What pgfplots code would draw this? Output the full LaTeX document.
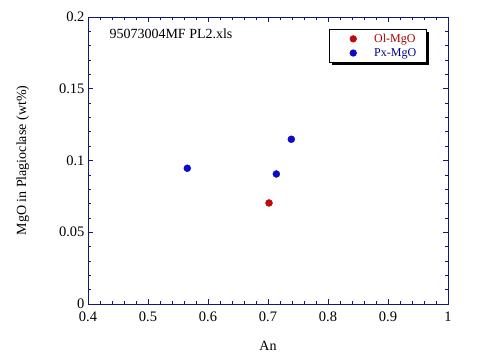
\documentclass[border=0pt]{standalone}
\usepackage{fontspec}
\setmainfont{Liberation Serif}
\usepackage{pgfplots}
\pgfplotsset{compat=1.18}
\definecolor{axnavy}{RGB}{20,20,130}
\definecolor{ptred}{RGB}{190,10,10}
\definecolor{ptblue}{RGB}{10,10,200}
\definecolor{txtred}{RGB}{160,0,0}
\definecolor{txtblue}{RGB}{0,0,150}
\begin{document}
\begin{tikzpicture}[x=1pt,y=1pt]
\useasboundingbox (-88,-55) rectangle (400,304);
\begin{axis}[
  at={(0,0)}, anchor=south west,
  scale only axis, width=360pt, height=287pt,
  xmin=0.4, xmax=1, ymin=0, ymax=0.2,
  xtick={0.4,0.5,...,1.0}, ytick={0,0.05,0.1,0.15,0.2},
  xticklabels={0.4,0.5,0.6,0.7,0.8,0.9,1},
  yticklabels={0,0.05,0.1,0.15,0.2},
  minor x tick num=4, minor y tick num=4,
  tick align=inside, major tick length=5pt, minor tick length=3pt,
  axis line style={axnavy, line width=0.8pt},
  every tick/.style={axnavy, line width=0.6pt},
  tick label style={font=\fontsize{14.5}{16}\selectfont},
  xticklabel style={yshift=-4.5pt},
  /pgf/number format/assume math mode=true,
  xlabel={An}, ylabel={MgO in Plagioclase (wt\%)},
  label style={font=\fontsize{14}{16}\selectfont},
  xlabel style={at={(axis description cs:0.5,-0.146)}, anchor=center},
  ylabel style={at={(axis description cs:-0.181,0.5)}, anchor=center},
  legend style={at={(0.669,0.958)}, anchor=north west, draw=black, line width=0.8pt,
    fill=white, font=\fontsize{12}{14}\selectfont,
    row sep=0.5pt, inner xsep=0pt, inner ysep=2.5pt},
  legend cell align=left,
  clip=false,
]
\fill[black] (axis description cs:0.6778,0.8328) rectangle (axis description cs:0.9472,0.9477);
\addplot[only marks, mark=*, mark size=3.5pt, color=ptred, mark options={fill=ptred, draw=ptred},
  legend image code/.code={\path[draw=none,fill=none] (0pt,-3pt) rectangle (43pt,3pt); \fill[ptred] (24pt,0pt) circle (3.2pt);}]
  coordinates {(0.7017,0.0704)};
\addlegendentry{\makebox[50pt][l]{\textcolor{txtred}{Ol-MgO}}}
\addplot[only marks, mark=*, mark size=3.5pt, color=ptblue, mark options={fill=ptblue, draw=ptblue},
  legend image code/.code={\path[draw=none,fill=none] (0pt,-3pt) rectangle (43pt,3pt); \fill[ptblue] (24pt,0pt) circle (3.2pt);}]
  coordinates {(0.5655,0.0946) (0.7139,0.0906) (0.7389,0.1148)};
\addlegendentry{\makebox[50pt][l]{\textcolor{txtblue}{Px-MgO}}}
\node[anchor=west, font=\fontsize{14}{16}\selectfont] at (axis cs:0.430,0.1885) {95073004MF PL2.xls};
\end{axis}
\end{tikzpicture}
\end{document}
